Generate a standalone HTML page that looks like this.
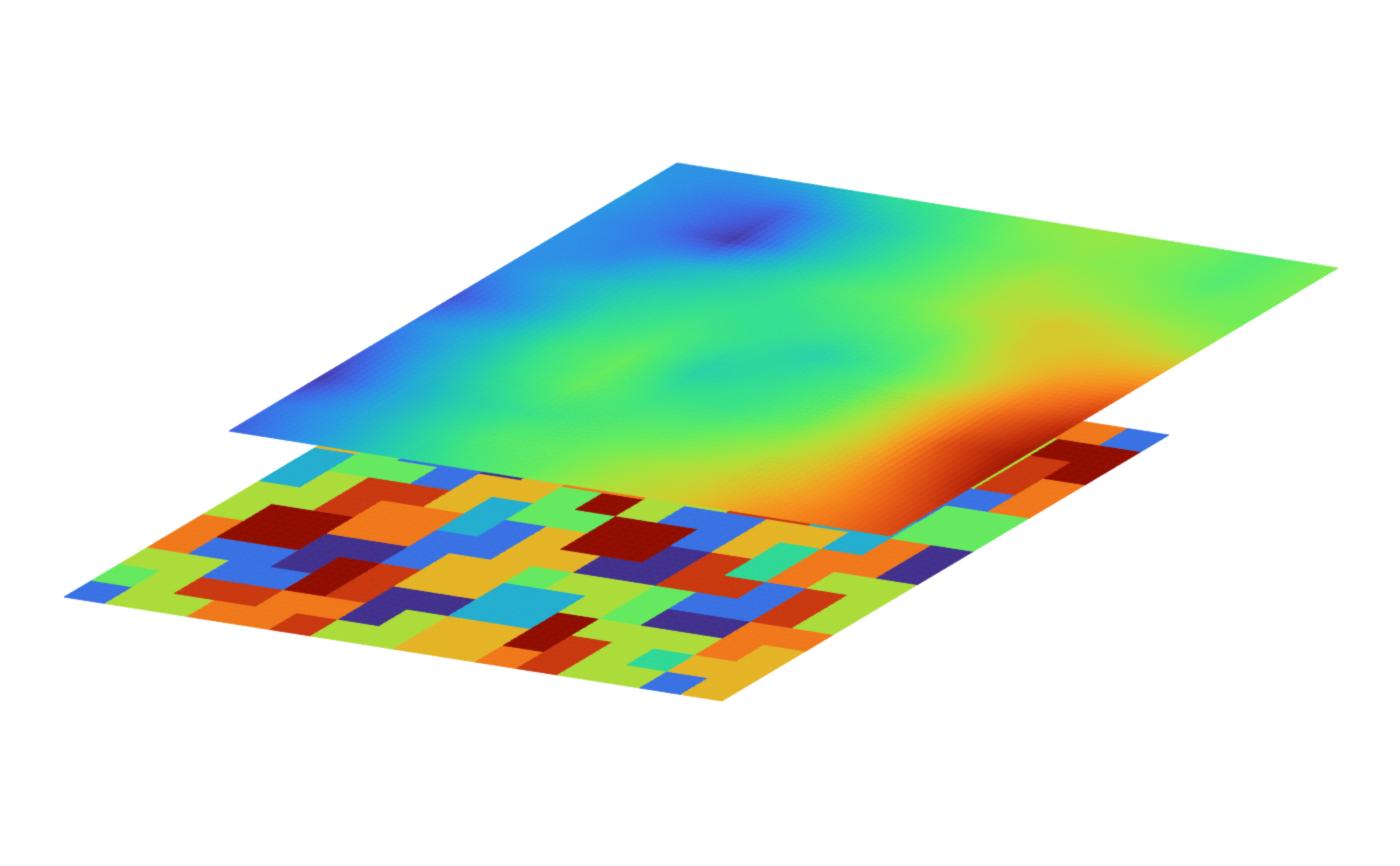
<!DOCTYPE html>
<html><head><meta charset="utf-8">
<style>html,body{margin:0;padding:0;background:#fff;}canvas{display:block;}</style>
</head><body>
<div style="width:1400px;height:866px;position:relative;">
<canvas id="c" width="1400" height="866"></canvas>
</div>
<script>
// Top surface: continuous field values (rows: front edge -> back edge, cols: left edge -> right edge), turbo scale 0..1
const topRow0 = [0.12,0.2,0.3,0.38,0.45,0.55,0.6,0.7,0.75,0.82];
const topRow1 = [0.15,0.22,0.32,0.42,0.45,0.52,0.58,0.65,0.75,0.85];
const topRow2 = [0.06,0.22,0.32,0.38,0.42,0.45,0.52,0.62,0.78,0.9];
const topRow3 = [0.12,0.25,0.36,0.45,0.38,0.38,0.45,0.6,0.82,0.92];
const topRow4 = [0.18,0.26,0.38,0.45,0.32,0.36,0.42,0.6,0.78,0.88];
const topRow5 = [0.1,0.22,0.35,0.4,0.36,0.32,0.4,0.55,0.72,0.8];
const topRow6 = [0.18,0.25,0.32,0.36,0.36,0.4,0.45,0.6,0.65,0.68];
const topRow7 = [0.2,0.18,0.26,0.32,0.4,0.45,0.55,0.62,0.58,0.52];
const topRow8 = [0.2,0.16,0.06,0.26,0.36,0.45,0.55,0.52,0.48,0.46];
const topRow9 = [0.22,0.16,0.12,0.26,0.36,0.45,0.5,0.48,0.42,0.48];
const topRow10 = [0.2,0.2,0.25,0.35,0.4,0.5,0.52,0.48,0.42,0.48];
const topField = [topRow0,topRow1,topRow2,topRow3,topRow4,topRow5,topRow6,topRow7,topRow8,topRow9,topRow10];

// Bottom surface: categorical blocks (0..9)
const botRow0  = [1,5,5,7,7,8,5,5,6,6,7,8,5,5,1,6];
const botRow1  = [4,5,8,8,7,7,0,5,6,6,9,8,5,3,6,6];
const botRow2  = [5,5,1,1,9,8,0,0,2,2,9,5,5,5,7,6];
const botRow3  = [7,1,1,0,9,8,6,6,2,2,5,4,0,0,7,7];
const botRow4  = [7,9,9,0,0,1,6,6,4,5,5,4,1,1,8,5];
const botRow5  = [5,9,9,7,7,1,1,6,6,0,0,8,8,1,8,5];
const botRow6  = [5,5,8,7,7,2,1,6,9,9,0,8,3,7,5,5];
const botRow7  = [2,5,8,8,6,2,4,4,9,9,1,6,3,7,7,0];
const botRow8  = [2,4,4,1,6,6,4,9,5,1,1,6,6,2,7,0];
const botRow9  = [6,4,1,1,0,6,7,7,5,5,8,8,2,2,4,4];
const botRow10 = [6,6,1,0,0,3,7,5,5,9,8,6,6,1,4,4];
const botRow11 = [8,6,5,5,9,3,2,2,5,9,0,6,4,1,1,7];
const botRow12 = [8,8,5,9,9,7,2,2,4,4,0,0,4,5,8,7];
const botRow13 = [7,8,2,9,4,7,7,1,1,6,6,0,5,5,8,9];
const botRow14 = [7,5,2,2,4,4,5,1,9,6,6,3,3,5,9,9];
const botRow15 = [2,5,5,6,6,4,5,5,9,9,7,3,3,7,7,1];
const botField = [botRow0,botRow1,botRow2,botRow3,botRow4,botRow5,botRow6,botRow7,botRow8,botRow9,botRow10,botRow11,botRow12,botRow13,botRow14,botRow15];

function turbo(x,shade){
  x=Math.max(0,Math.min(1,x));
  const r=34.61+x*(1172.33-x*(10793.56-x*(33300.12-x*(38394.49-x*14825.05))));
  const g=23.31+x*(557.33+x*(1225.33-x*(3574.96-x*(1073.77+x*707.56))));
  const b=27.2+x*(3211.1-x*(15327.97-x*(27814-x*(22569.18-x*6838.66))));
  const c=v=>Math.max(0,Math.min(255,Math.round(v*shade)));
  return 'rgb('+c(r)+','+c(g)+','+c(b)+')';
}
const cv=document.getElementById('c');
const ctx=cv.getContext('2d');

function quad(L,T,B,u0,u1,v0,v1,col){
  const P=(u,v)=>[L[0]+u*(T[0]-L[0])+v*(B[0]-L[0]), L[1]+u*(T[1]-L[1])+v*(B[1]-L[1])];
  const a=P(u0,v0),b=P(u1,v0),c=P(u1,v1),d=P(u0,v1);
  ctx.fillStyle=col;ctx.strokeStyle=col;ctx.lineWidth=0.8;
  ctx.beginPath();ctx.moveTo(a[0],a[1]);ctx.lineTo(b[0],b[1]);ctx.lineTo(c[0],c[1]);ctx.lineTo(d[0],d[1]);ctx.closePath();
  ctx.fill();ctx.stroke();
}

// bottom plane
const BL=[64,597], BT=[511,331], BB=[722,701];
const nb=botField.length, N2=64;
for(let i=0;i<N2;i++)for(let j=0;j<N2;j++){
  const r=Math.min(nb-1,Math.floor(i/N2*nb)), k=Math.min(nb-1,Math.floor(j/N2*nb));
  const val=0.05+botField[r][k]*0.1;
  quad(BL,BT,BB,i/N2,(i+1)/N2,j/N2,(j+1)/N2,turbo(val,0.92));
}

// top plane
const TL=[229,431], TT=[677,163], TB=[890,536];
const nr=topField.length-1, nc=topField[0].length-1, N=80;
for(let i=0;i<N;i++)for(let j=0;j<N;j++){
  const u=(i+0.5)/N*nr, v=(j+0.5)/N*nc;
  const r=Math.min(nr-1,Math.floor(u)), k=Math.min(nc-1,Math.floor(v));
  const fu=u-r, fv=v-k;
  const val=topField[r][k]*(1-fu)*(1-fv)+topField[r+1][k]*fu*(1-fv)+topField[r][k+1]*(1-fu)*fv+topField[r+1][k+1]*fu*fv;
  quad(TL,TT,TB,i/N,(i+1)/N,j/N,(j+1)/N,turbo(val,0.93));
}
</script>
</body></html>
